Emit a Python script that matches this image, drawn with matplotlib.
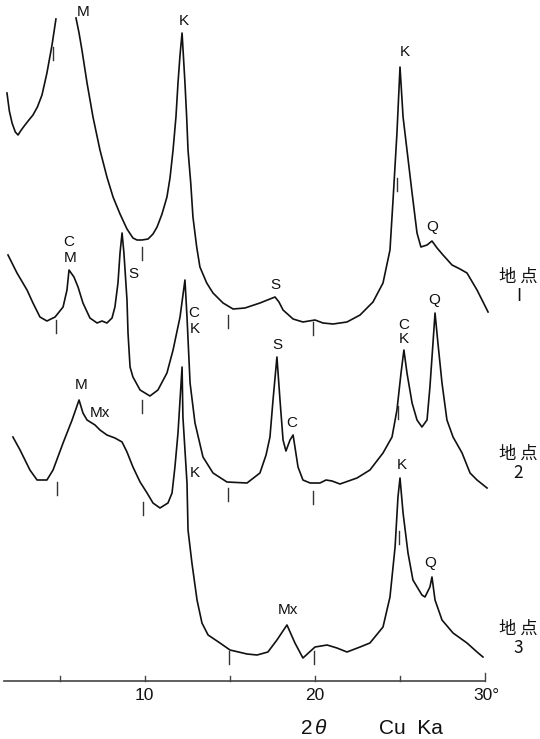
import matplotlib
matplotlib.use("Agg")
import matplotlib.pyplot as plt
import numpy as np

plt.rcParams['font.family'] = ['Liberation Sans', 'Noto Sans CJK JP', 'DejaVu Sans']

# ---------------- data (2-theta in degrees, intensity in arbitrary units) -------------
# Site 1 (top trace) -- low-angle part (goes off scale), then main part
s1a_tt = [1.91, 2.05, 2.21, 2.40, 2.56, 2.75, 2.97, 3.20, 3.44, 3.70, 3.97, 4.26, 4.56, 4.79]
s1a_I = [246, 228, 216, 207, 204, 209, 214, 219, 224, 232, 244, 266, 294, 320]
s1_tt = [5.97, 6.15, 6.32, 6.62, 6.97, 7.38, 7.79, 8.15, 8.56, 8.97, 9.32, 9.56, 9.85,
         10.21, 10.50, 10.74, 11.03, 11.32, 11.50, 11.68, 11.85, 11.97, 12.09, 12.21,
         12.38, 12.48, 12.56, 12.72, 12.85, 13.07, 13.26, 13.66, 14.03, 14.62,
         15.21, 15.91, 16.79, 17.38, 17.68, 17.91, 18.15, 18.74, 19.32, 20.03, 20.50,
         21.09, 21.91, 22.68, 23.44, 24.03, 24.44, 24.62, 24.85, 25.03, 25.21, 25.44,
         25.74, 26.03, 26.26, 26.62, 26.91, 27.21, 27.56, 28.09, 28.56, 28.97, 29.56, 30.21]
s1_I = [321, 306, 289, 256, 222, 189, 162, 142, 125, 110, 101, 99, 99,
        100, 105, 112, 125, 142, 161, 189, 222, 256, 284, 306,
        256, 222, 189, 156, 122, 92, 72, 56, 46, 36,
        30, 31, 36, 40, 42, 37, 29, 20, 17, 19, 16,
        15, 17, 24, 37, 56, 89, 139, 206, 272, 222, 189,
        146, 106, 92, 94, 98, 91, 84, 74, 70, 66, 49, 27]

# Site 2 (middle trace)
s2_tt = [1.97, 2.50, 3.09, 3.44, 3.85, 4.26, 4.74, 5.21, 5.44, 5.56, 5.85, 6.09, 6.38,
         6.79, 7.21, 7.50, 7.79, 8.09, 8.26, 8.44, 8.56, 8.68, 8.79, 8.97, 9.03, 9.15,
         9.32, 9.74, 10.32, 10.79, 11.32, 11.68, 12.09, 12.38, 12.50, 12.68, 12.97, 13.44,
         14.03, 14.85, 16.03, 16.79, 17.15, 17.38, 17.56, 17.79, 17.97, 18.15, 18.32,
         18.56, 18.74, 18.85, 19.03, 19.32, 19.74, 20.32, 20.68, 21.03, 21.50, 22.50,
         23.26, 24.03, 24.56, 24.85, 25.09, 25.26, 25.44, 25.74, 26.03, 26.32, 26.62,
         26.79, 26.97, 27.09, 27.26, 27.50, 27.79, 28.15, 28.68, 29.15, 29.56, 30.15]
s2_I = [244, 226, 209, 196, 182, 178, 182, 192, 209, 229, 222, 212, 196,
        181, 176, 178, 176, 181, 192, 216, 246, 266, 246, 199, 166, 132,
        122, 109, 103, 109, 126, 149, 182, 219, 182, 116, 76, 42,
        26, 17, 16, 26, 44, 62, 99, 142, 99, 59, 48,
        59, 64, 52, 32, 19, 16, 16, 19, 18, 15, 21,
        29, 46, 62, 89, 126, 149, 126, 96, 79, 72, 79,
        112, 156, 186, 156, 116, 79, 62, 46, 26, 19, 11]

# Site 3 (bottom trace)
s3_tt = [2.26, 2.68, 3.26, 3.68, 4.26, 4.62, 5.21, 5.74, 6.15, 6.38, 6.62, 7.09, 7.38,
         7.79, 8.26, 8.68, 8.97, 9.32, 9.74, 10.15, 10.50, 10.91, 11.38, 11.62, 11.79,
         11.97, 12.21, 12.26, 12.50, 12.56, 12.79, 13.09, 13.38, 13.74, 14.44, 15.03,
         16.03, 16.62, 17.26, 17.79, 18.38, 18.85, 19.32, 20.03, 20.74, 21.32, 21.91,
         22.68, 23.26, 24.03, 24.44, 24.74, 24.91, 25.03, 25.21, 25.50, 25.79, 26.32,
         26.50, 26.79, 26.91, 27.09, 27.50, 28.15, 28.97, 29.56, 29.91]
s3_I = [232, 219, 199, 189, 189, 199, 226, 249, 269, 256, 249, 244, 239,
        234, 231, 227, 217, 202, 187, 176, 166, 161, 166, 176, 202,
        236, 302, 252, 186, 139, 106, 69, 46, 34, 26, 19,
        15, 14, 17, 29, 44, 26, 11, 22, 24, 21, 17,
        22, 26, 42, 72, 122, 172, 191, 156, 116, 89, 74,
        72, 82, 92, 69, 49, 36, 26, 17, 12]

# vertical offsets of the three traces
offsets = [400, 240, 70]
site_names = ["地 点\nI", "地 点\n2", "地 点\n3"]

# illite reference marks (2-theta, level relative to trace)
m1_tt = [4.62, 9.87, 14.93, 19.93, 24.88]
m1_I = [286, 86, 18, 11, 155]
m2_tt = [4.82, 9.87, 14.93, 19.93, 24.93]
m2_I = [173, 93, 5, 2, 87]
m3_tt = [4.85, 9.90, 14.98, 19.98, 24.96]
m3_I = [181, 161, 12, 12, 132]

# peak labels: (trace index, 2-theta, level relative to trace, text)
peak_labels = [
    (0, 6.38, 327, "M"), (0, 12.32, 318, "K"), (0, 17.68, 54, "S"),
    (0, 25.32, 287, "K"), (0, 26.91, 112, "Q"),
    (1, 5.53, 257, "C"), (1, 5.65, 241, "M"), (1, 9.32, 225, "S"),
    (1, 12.91, 186, "C"), (1, 12.97, 170, "K"), (1, 17.79, 154, "S"),
    (1, 18.68, 76, "C"), (1, 25.26, 174, "C"), (1, 25.26, 160, "K"),
    (1, 27.03, 199, "Q"),
    (2, 6.26, 284, "M"), (2, 7.38, 256, "Mx"), (2, 12.97, 196, "K"),
    (2, 18.44, 59, "Mx"), (2, 25.15, 204, "K"), (2, 26.79, 106, "Q"),
]
site_label_level = [53, 36, 31]

axis_ticks = [5, 10, 15, 20, 25, 30]
axis_ticklabels = {10: "10", 20: "20", 30: "30°"}

# ---------------- drawing -------------
W, H = 540, 739
fig = plt.figure(figsize=(W / 100, H / 100), dpi=100)
ax = fig.add_axes([0, 0, 1, 1])
deg_px = 17.0
ax.set_xlim(1.5, 1.5 + W / deg_px)
ax.set_ylim(0, H)
ax.axis('off')

lc = '#111111'
lw = 1.2

ax.plot(s1a_tt, np.array(s1a_I) + offsets[0], color=lc, lw=lw)
ax.plot(s1_tt, np.array(s1_I) + offsets[0], color=lc, lw=lw)
ax.plot(s2_tt, np.array(s2_I) + offsets[1], color=lc, lw=lw)
ax.plot(s3_tt, np.array(s3_I) + offsets[2], color=lc, lw=lw)

for mt, mi, off in [(m1_tt, m1_I, offsets[0]), (m2_tt, m2_I, offsets[1]), (m3_tt, m3_I, offsets[2])]:
    for t, i in zip(mt, mi):
        ax.plot([t, t], [off + i - 6.5, off + i + 6.5], color='#333333', lw=1.0)

for k, t, lev, txt in peak_labels:
    ax.text(t, offsets[k] + lev, txt, ha='center', va='center', fontsize=11, color=lc)

for k, name in enumerate(site_names):
    ax.text(32.0, offsets[k] + site_label_level[k], name, ha='center', va='center',
            fontsize=12.5, color=lc, linespacing=1.1,
            family=['Noto Sans CJK JP', 'DejaVu Sans'])

# x axis
base = 58
ax.plot([1.76, 30], [base, base], color='#444444', lw=1.2)
for t in axis_ticks:
    h = 8 if t == 30 else 5
    ax.plot([t, t], [base, base + h], color='#444444', lw=1.0)
for t, s in axis_ticklabels.items():
    ax.text(t + (0.12 if t == 30 else 0), base - 14, s, ha='center', va='center', fontsize=12.5, color=lc)

ax.text(19.9, 10, "2", ha='right', va='center', fontsize=15, color=lc)
ax.text(20.0, 10, "θ", ha='left', va='center', fontsize=15, color=lc, style='italic')
ax.text(25.7, 10, "Cu  Ka", ha='center', va='center', fontsize=15, color=lc)

fig.savefig("out.png", dpi=100)
